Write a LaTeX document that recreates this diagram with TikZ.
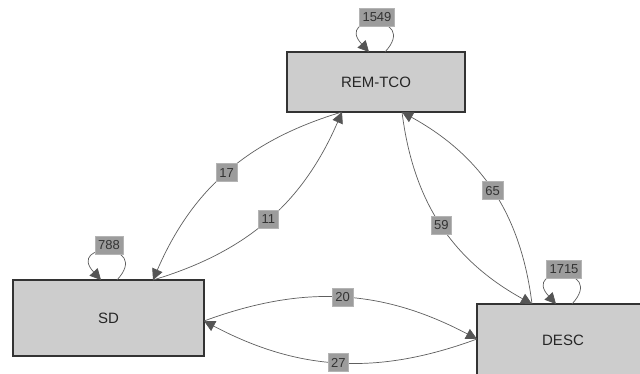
\documentclass[tikz,border=0pt]{standalone}
\usepackage{fontspec}
\setmainfont{Liberation Sans}
\usetikzlibrary{arrows.meta}
\definecolor{boxfill}{HTML}{CDCDCD}
\definecolor{boxline}{HTML}{333333}
\definecolor{lblfill}{HTML}{9C9C9C}
\definecolor{lblline}{HTML}{B4B4B4}
\definecolor{edgecol}{HTML}{5E5E5E}
\definecolor{tipcol}{HTML}{555555}
\begin{document}
\begin{tikzpicture}[x=1pt,y=-1pt,
  statebox/.style={draw=boxline,line width=1.6pt,fill=boxfill,minimum width=#1,inner sep=0pt,font=\fontsize{15}{15}\selectfont,text=black!85},
  statebox/.default=178pt,
  cnt/.style={fill=lblfill,draw=lblline,line width=0.6pt,inner xsep=3pt,inner ysep=1pt,minimum width=19pt,minimum height=18pt,font=\fontsize{13}{13}\selectfont,text=black!80},
  flow/.style={draw=edgecol,line width=0.7pt,-{Triangle[length=11pt,width=11pt,color=tipcol,fill=tipcol]}}]
\useasboundingbox (0,0) rectangle (640,374);
\fill[white] (0,0) rectangle (640,374);
% boxes
\node[statebox=178pt,minimum height=60pt] (rem) at (376,82) {REM-TCO};
\node[statebox=191pt,minimum height=76pt] (sd) at (108.5,318) {SD};
\node[statebox=172pt,minimum height=72pt] (desc) at (563,340) {DESC};
% attachment points
\coordinate (remA) at (342,112);
\coordinate (remB) at (402,112);
\coordinate (sdA) at (153,280);
\coordinate (sdB) at (204,321);
\coordinate (descA) at (532,304);
\coordinate (descB) at (477,339);
\coordinate (remL1) at (385,52);
\coordinate (remL2) at (369,52);
\coordinate (sdL1) at (117,280);
\coordinate (sdL2) at (101,280);
\coordinate (descL1) at (572,304);
\coordinate (descL2) at (556,304);
% edges
\draw[flow] (remA) to[bend right=25] node[cnt,pos=0.5] (l17) {17} (sdA);
\draw[flow] (sdA) to[bend right=25] node[cnt,pos=0.5] (l11) {11} (remA);
\draw[flow] (descA) to[bend right=27] node[cnt,pos=0.5] (l65) {65} (remB);
\draw[flow] (remB) to[bend right=27] node[cnt,pos=0.5] (l59) {59} (descA);
\draw[flow] (sdB) to[bend left=24] node[cnt,pos=0.5] (l20) {20} (descB);
\draw[flow] (descB) to[bend left=24] node[cnt,pos=0.5] (l27) {27} (sdB);
% self loops
\draw[flow] (remL1) .. controls (420,14) and (334,14) .. node[cnt,pos=0.5,yshift=6pt] (l1549) {1549} (remL2);
\draw[flow] (sdL1) .. controls (152,242) and (66,242) .. node[cnt,pos=0.5,yshift=6pt] (l788) {788} (sdL2);
\draw[flow] (descL1) .. controls (607,266) and (521,266) .. node[cnt,pos=0.5,yshift=6pt] (l1715) {1715} (descL2);
\end{tikzpicture}
\end{document}
